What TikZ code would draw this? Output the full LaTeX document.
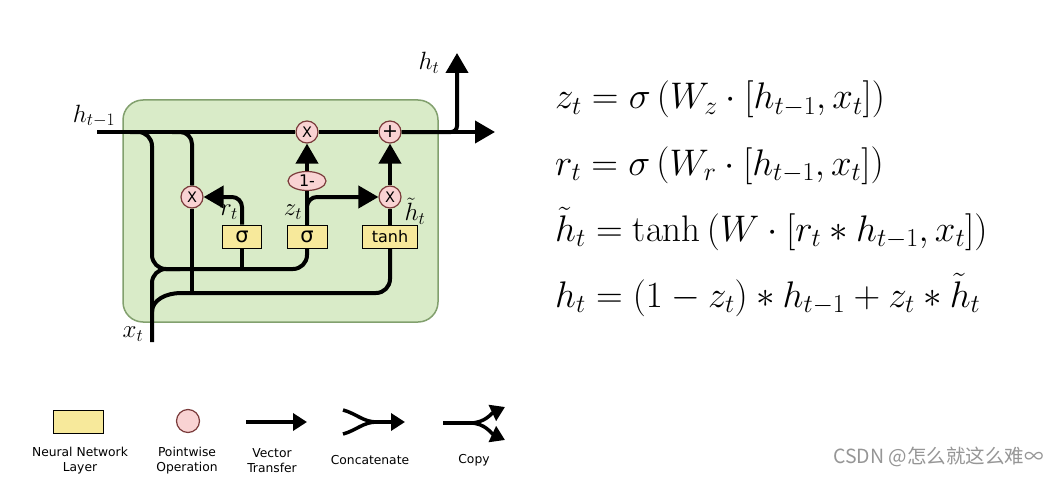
\RequirePackage{fix-cm}
\documentclass[tikz,border=0pt]{standalone}
\usepackage{fontspec}
\setsansfont{DejaVu Sans}
\newfontfamily\cjkfont{Noto Sans CJK SC}
\usetikzlibrary{positioning, shapes.geometric, arrows.meta, calc}

\definecolor{cellgreen}{HTML}{D9EBC8}
\definecolor{cellborder}{HTML}{82A06E}
\definecolor{layeryellow}{HTML}{F7E99B}
\definecolor{opfill}{HTML}{F9D3D3}
\definecolor{opdraw}{HTML}{7A3B3B}
\definecolor{markgray}{HTML}{969696}

\begin{document}
\begin{tikzpicture}[x=1pt, y=-1pt,
  % Node Styles
  cellbox/.style={rectangle, rounded corners=20pt, draw=cellborder, fill=cellgreen, line width=1.5pt, minimum width=315pt, minimum height=222pt},
  layer/.style={rectangle, draw=black, fill=layeryellow, line width=1pt, inner sep=0pt, minimum height=23pt, font=\sffamily\fontsize{16}{18}\selectfont},
  pointop/.style={circle, draw=opdraw, fill=opfill, line width=1.2pt, minimum size=22pt, inner sep=0pt, font=\sffamily\fontsize{14.5}{15}\selectfont},
  oneop/.style={ellipse, draw=opdraw, fill=opfill, line width=1.2pt, minimum width=38pt, minimum height=19pt, inner sep=0pt, font=\sffamily\fontsize{16}{16}\selectfont},
  mathlabel/.style={inner sep=0pt, font=\fontsize{25}{28}\selectfont},
  formula/.style={anchor=base west, inner sep=0pt, font=\fontsize{37}{42}\selectfont},
  legtext/.style={align=center, inner sep=0pt, font=\sffamily\fontsize{12.3}{15}\selectfont},
  % Arrow Styles
  flow/.style={line width=4pt, black},
  arrowflow/.style={flow, -{Triangle[length=20pt, width=22pt]}},
  legflow/.style={line width=3.5pt, black},
  legarrow/.style={legflow, -{Triangle[length=14pt, width=17pt]}}
]
\fill[white] (0,0) rectangle (1056,492);
\useasboundingbox (0,0) rectangle (1056,492);

% GRU cell
\node[cellbox] (cell) at (280.5,211) {};

\node[pointop] (mulz) at (307,132) {X};
\node[pointop, font=\sffamily\fontsize{19}{19}\selectfont] (plus) at (390,132) {+};
\node[oneop] (oneminus) at (307,181) {1-};
\node[pointop] (mulr) at (192,197) {X};
\node[pointop] (mulh) at (390,197) {X};
\node[layer, minimum width=39pt, font=\sffamily\fontsize{21}{21}\selectfont] (sigr) at (242,236.5) {σ};
\node[layer, minimum width=40pt, font=\sffamily\fontsize{21}{21}\selectfont] (sigz) at (307,236.5) {σ};
\node[layer, minimum width=55pt] (tanhbox) at (390,236.5) {tanh};

\coordinate (hin) at (97,132);
\coordinate (hout) at (495,132);
\coordinate (htop) at (457,53);
\coordinate (splitA) at (130,132);
\coordinate (splitB) at (172,132);
\coordinate (merge) at (152,269);
\coordinate (mergeR) at (180,269);
\coordinate (xin) at (152,342);
\coordinate (xsplit) at (152,312);
\coordinate (bottom) at (195,293);

% labels
\node[mathlabel] (hprevlabel) at (94,116) {$h_{t-1}$};
\node[mathlabel] (houtlabel) at (429,63) {$h_t$};
\node[mathlabel] (xlabel) at (133,334) {$x_t$};
\node[mathlabel] (rlabel) at (229,212) {$r_t$};
\node[mathlabel] (zlabel) at (293,212) {$z_t$};
\node[mathlabel] (hcandlabel) at (415,211) {$\tilde{h}_t$};

% state line
\draw[flow] (hin) -- (mulz);
\draw[flow] (mulz) -- (plus);
\draw[arrowflow] (plus) -- (hout);
\draw[arrowflow, rounded corners=6pt] (plus.east) -| (htop);

% inputs to the gates
\draw[flow, rounded corners=14pt] (splitA) -| (merge) -| (sigz);
\draw[flow, rounded corners=14pt] (xin) |- (mergeR);
\draw[flow] (sigr) -- (sigr |- merge);
\draw[flow, rounded corners=12pt] (splitB) -| (mulr);
\draw[flow] (mulr) -- (mulr |- bottom);
\draw[flow, rounded corners=14pt] (xsplit) .. controls (152,300) and (166,293) .. (bottom) -| (tanhbox);

% gate outputs
\draw[arrowflow, rounded corners=10pt] (sigr) |- (mulr);
\draw[flow] (sigz) -- (oneminus);
\draw[arrowflow] (oneminus) -- (mulz);
\draw[arrowflow, rounded corners=10pt] (sigz.north) |- (mulh);
\draw[flow] (tanhbox) -- (mulh);
\draw[arrowflow] (mulh) -- (plus);

% Equations
\node[formula] (eqz) at (555,109) {$z_t = \sigma\left(W_z\cdot[h_{t-1},x_t]\right)$};
\node[formula] (eqr) at (555,175) {$r_t = \sigma\left(W_r\cdot[h_{t-1},x_t]\right)$};
\node[formula] (eqh) at (555,241) {$\tilde{h}_t = \tanh\left(W\cdot[r_t*h_{t-1},x_t]\right)$};
\node[formula] (eqout) at (555,307) {$h_t = (1-z_t)*h_{t-1}+z_t*\tilde{h}_t$};

% Legend
\node[layer, minimum width=50pt] (leglayer) at (78,421.5) {};
\node[legtext] (leglayertxt) at (80,460.5) {Neural Network\\Layer};
\node[pointop, minimum size=23pt] (legop) at (188,421) {};
\node[legtext] (legoptxt) at (187,460.5) {Pointwise\\Operation};

\coordinate (vecA) at (246,422);
\coordinate (vecB) at (307,422);
\draw[legarrow] (vecA) -- (vecB);
\node[legtext] (vectxt) at (272,460.5) {Vector\\Transfer};

\coordinate (catA) at (343,410);
\coordinate (catB) at (343,434);
\coordinate (catM) at (377,422);
\coordinate (catE) at (405,422);
\draw[legflow] (catA) to[out=-15, in=180] (catM);
\draw[legflow] (catB) to[out=15, in=180] (catM);
\draw[legarrow] (catM) -- (catE);
\node[legtext] (cattxt) at (370,460) {Concatenate};

\coordinate (cpA) at (443,423);
\coordinate (cpM) at (470,423);
\coordinate (cpU) at (505,407);
\coordinate (cpD) at (505,440);
\draw[legflow] (cpA) -- (cpM);
\draw[legarrow] (cpM) to[out=0, in=205] (cpU);
\draw[legarrow] (cpM) to[out=0, in=155] (cpD);
\node[legtext] (cptxt) at (474,460) {Copy};

\node[anchor=west, inner sep=0pt, text=markgray, font=\cjkfont\fontsize{19.5}{21}\selectfont] (mark) at (833,457) {CSDN @怎么就这么难∞};

\end{tikzpicture}
\end{document}
